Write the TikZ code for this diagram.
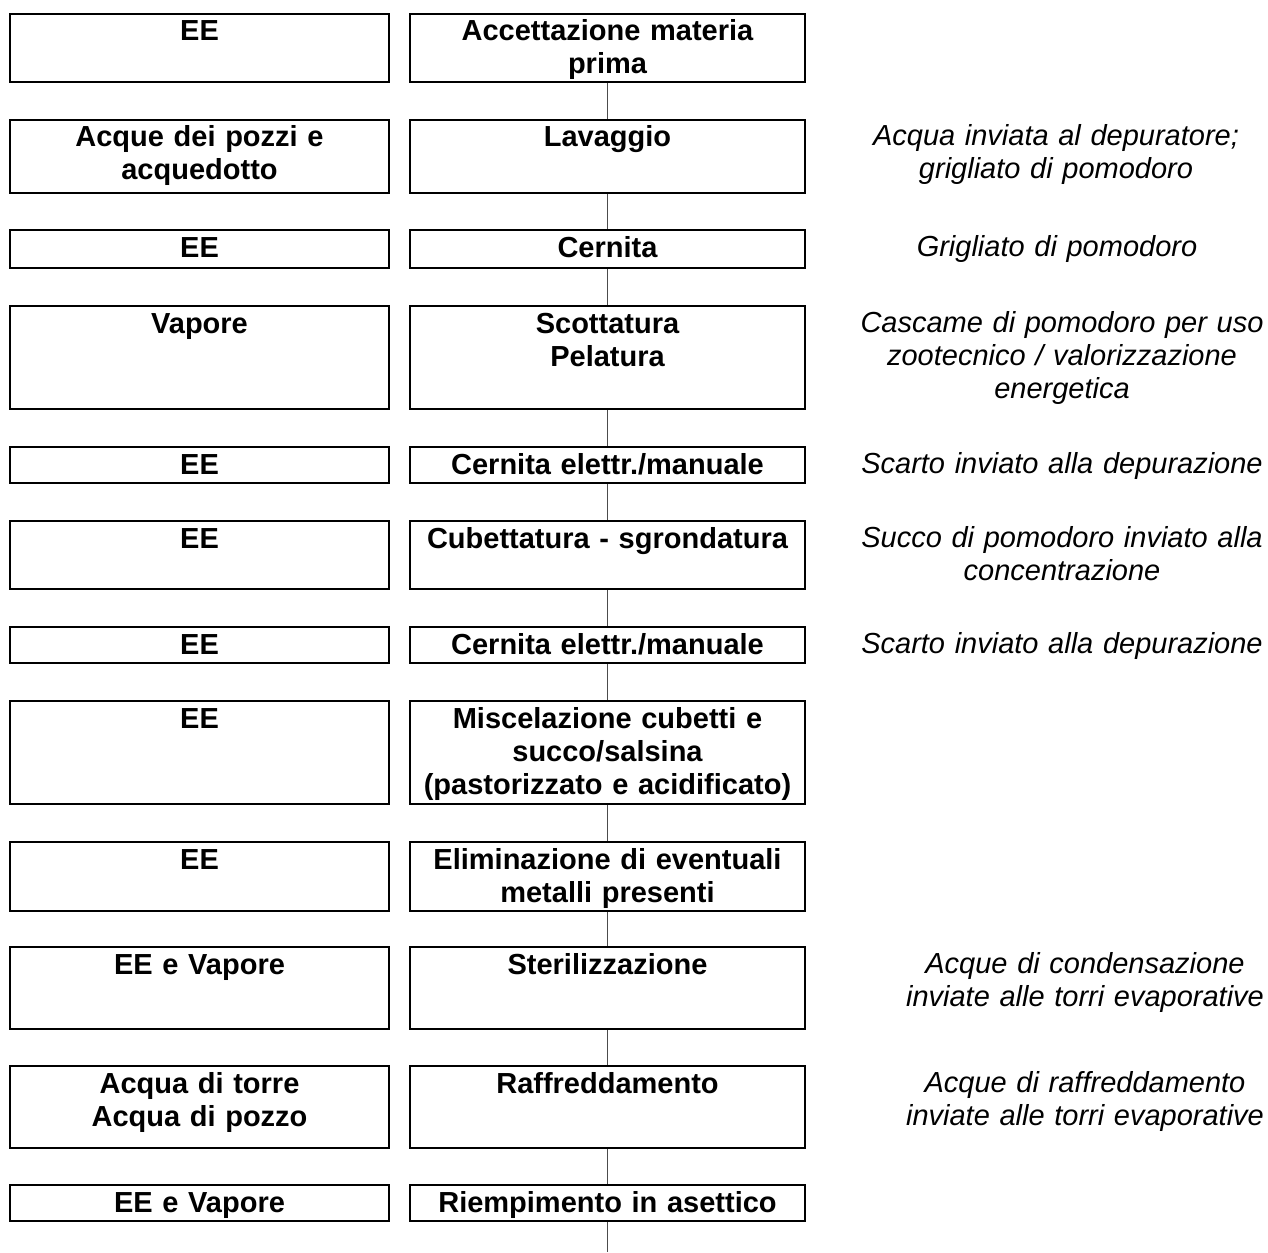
\documentclass[tikz,border=0pt]{standalone}
\usepackage{fontspec}
\setmainfont{Liberation Sans}
\tikzset{
	inbox/.style={draw, line width=1pt, inner sep=0pt, anchor=north,
		text width=189.5pt, align=center,
		font=\fontsize{14.5}{16.5}\selectfont\bfseries,
		text height=13.5pt, text depth=#1},
	stepbox/.style={inbox=#1, text width=197.5pt},
	note/.style={anchor=base, inner sep=0pt, text width=215pt, align=center,
		font=\fontsize{14.5}{16.5}\selectfont\itshape},
	link/.style={draw=black!70, line width=0.6pt}
}
\begin{document}
\begin{tikzpicture}[x=0.5pt, y=-0.5pt]
			\useasboundingbox (0,0) rectangle (1268,1252);
			\node[inbox=20.5pt] (A1) at (199.5,13) {EE};
			\node[inbox=23pt] (A2) at (199.5,119) {Acque dei pozzi e\\acquedotto};
			\node[inbox=5.5pt] (A3) at (199.5,229) {EE};
			\node[inbox=38pt] (A4) at (199.5,305) {Vapore};
			\node[inbox=4.5pt] (A5) at (199.5,446) {EE};
			\node[inbox=20.5pt] (A6) at (199.5,520) {EE};
			\node[inbox=4.5pt] (A7) at (199.5,626) {EE};
			\node[inbox=38pt] (A8) at (199.5,700) {EE};
			\node[inbox=21pt] (A9) at (199.5,841) {EE};
			\node[inbox=27.5pt] (A10) at (199.5,946) {EE e Vapore};
			\node[inbox=27.5pt] (A11) at (199.5,1065) {Acqua di torre\\Acqua di pozzo};
			\node[inbox=4.5pt] (A12) at (199.5,1184) {EE e Vapore};
			\node[stepbox=20.5pt] (P1) at (607.5,13) {Accettazione materia\\prima};
			\node[stepbox=23pt] (P2) at (607.5,119) {Lavaggio};
			\node[stepbox=5.5pt] (P3) at (607.5,229) {Cernita};
			\node[stepbox=38pt] (P4) at (607.5,305) {Scottatura\\Pelatura};
			\node[stepbox=4.5pt] (P5) at (607.5,446) {Cernita elettr./manuale};
			\node[stepbox=20.5pt] (P6) at (607.5,520) {Cubettatura - sgrondatura};
			\node[stepbox=4.5pt] (P7) at (607.5,626) {Cernita elettr./manuale};
			\node[stepbox=38pt] (P8) at (607.5,700) {Miscelazione cubetti e\\succo/salsina\\(pastorizzato e acidificato)};
			\node[stepbox=21pt] (P9) at (607.5,841) {Eliminazione di eventuali\\metalli presenti};
			\node[stepbox=27.5pt] (P10) at (607.5,946) {Sterilizzazione};
			\node[stepbox=27.5pt] (P11) at (607.5,1065) {Raffreddamento};
			\node[stepbox=4.5pt] (P12) at (607.5,1184) {Riempimento in asettico};
			\coordinate (P13) at (607.5,1252);
			\node[note] (O2) at (1056,146) {Acqua inviata al depuratore;\\grigliato di pomodoro};
			\node[note] (O3) at (1057,256) {Grigliato di pomodoro};
			\node[note] (O4) at (1062,332) {Cascame di pomodoro per uso\\zootecnico / valorizzazione\\energetica};
			\node[note] (O5) at (1062,473) {Scarto inviato alla depurazione};
			\node[note] (O6) at (1062,547) {Succo di pomodoro inviato alla\\concentrazione};
			\node[note] (O7) at (1062,653) {Scarto inviato alla depurazione};
			\node[note] (O10) at (1085,973) {Acque di condensazione\\inviate alle torri evaporative};
			\node[note] (O11) at (1085,1092) {Acque di raffreddamento\\inviate alle torri evaporative};
			\foreach \i [count=\j from 2] in {1,...,12}
				\draw[link] (P\i) -- (P\j);
			\end{tikzpicture}
\end{document}
